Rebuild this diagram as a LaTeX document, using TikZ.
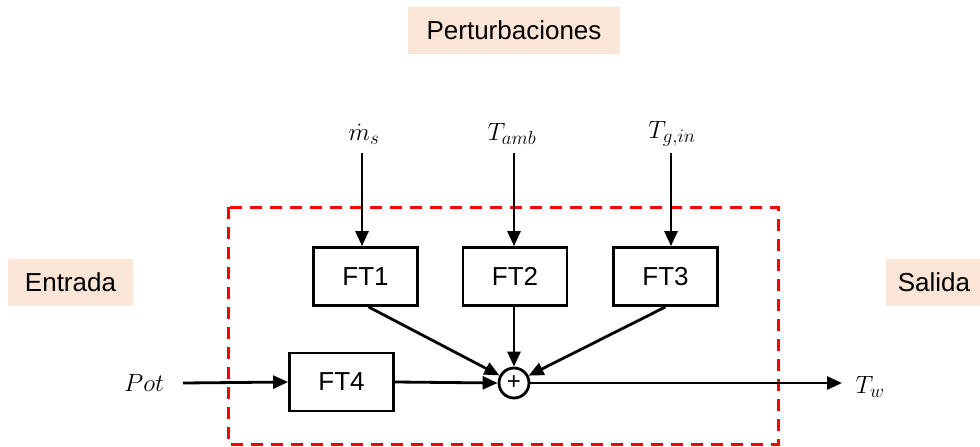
\RequirePackage{fix-cm}
\documentclass[tikz,border=0pt]{standalone}
\usepackage{fontspec}
\setmainfont{Liberation Sans}
\usetikzlibrary{arrows.meta}
\DeclareMathSizes{25}{25}{19}{15}
\definecolor{peach}{HTML}{FBE5D6}
\tikzset{
 lbl/.style={fill=peach, font=\fontsize{26}{30}\selectfont, inner sep=0pt, minimum height=47pt},
 ftbox/.style={draw, line width=2.8pt, minimum width=104pt, minimum height=58pt, inner sep=0pt, font=\fontsize{26}{30}\selectfont},
 arr/.style={line width=2.8pt, -{Triangle[length=15pt,width=13pt]}},
 mathlbl/.style={font=\fontsize{25}{28}\selectfont, inner sep=0pt},
 redbox/.style={draw=red, line width=3pt, dash pattern=on 12pt off 8pt},
}
\begin{document}
\begin{tikzpicture}[x=1pt,y=-1pt]
\useasboundingbox (0,0) rectangle (980,447);
% header labels
\node[lbl, minimum width=212pt] (pert) at (514,30) {Perturbaciones};
\node[lbl, minimum width=125pt] (ent) at (70.5,282) {Entrada};
\node[lbl, minimum width=96pt] (sal) at (934,282) {Salida};
% red dashed system boundary
\draw[redbox] (228,207) rectangle (778,444);
% transfer function blocks
\node[ftbox] (f1) at (365.5,276.5) {FT1};
\node[ftbox] (f2) at (515,276.5) {FT2};
\node[ftbox] (f3) at (665.5,276.5) {FT3};
\node[ftbox] (f4) at (341.5,382) {FT4};
\node[draw, circle, line width=2.8pt, minimum size=30pt, inner sep=0pt, font=\fontsize{24}{24}\selectfont] (sum) at (514,383) {+};
% disturbance inputs
\node[mathlbl] (lm) at (364,134) {$\dot{m}_s$};
\node[mathlbl] (la) at (512,134) {$T_{amb}$};
\node[mathlbl] (lg) at (672,134) {$T_{g,in}$};
\coordinate (cm) at (362,153);
\coordinate (ca) at (514,153);
\coordinate (cg) at (671,153);
\draw[arr] (cm) -- (cm |- f1.north);
\draw[arr] (ca) -- (ca |- f2.north);
\draw[arr] (cg) -- (cg |- f3.north);
% to summing junction
\draw[arr] ([xshift=3pt]f1.south) -- (sum);
\draw[arr] (f2.south -| sum) -- (sum.north);
\draw[arr] (f3.south) -- (sum);
\draw[arr] (f4.east) -- (sum.west);
% main input / output
\node[mathlbl] (pot) at (144,383) {$Pot$};
\coordinate (pin) at (183,383);
\draw[arr] (pin) -- (f4.west);
\coordinate (tout) at (842,383);
\draw[arr] (sum) -- (tout);
\node[mathlbl] (tw) at (870,387) {$T_w$};
\end{tikzpicture}
\end{document}
